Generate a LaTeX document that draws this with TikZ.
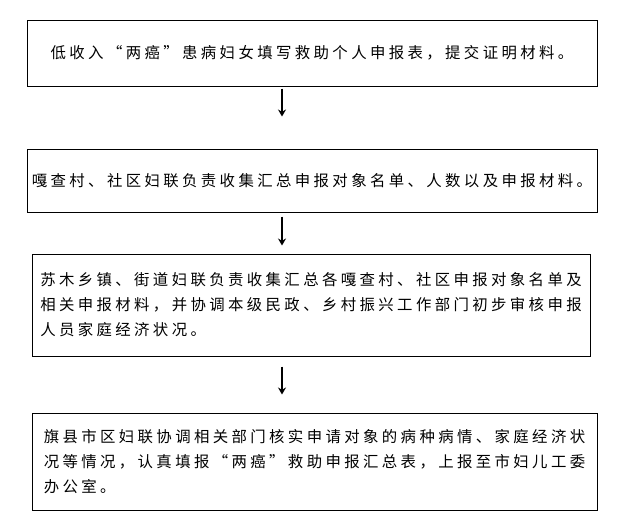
\documentclass[tikz,border=0pt]{standalone}
\usepackage{fontspec}
\usetikzlibrary{arrows.meta}
\newfontfamily\cjk[LetterSpace=22]{Noto Sans CJK SC}
\begin{document}
\begin{tikzpicture}[x=1pt,y=-1pt,
  box/.style={draw,line width=1pt,align=left,inner sep=0pt,font=\cjk\fontsize{15.4}{25}\selectfont},
  arr/.style={-{Stealth[length=7pt,width=8pt]},line width=1.3pt}]
\useasboundingbox (0,0) rectangle (619,523);
\node[box,minimum width=570,minimum height=66] (n1) at (312,53) {低收入“两癌”患病妇女填写救助个人申报表，提交证明材料。};
\node[box,minimum width=570,minimum height=63] (n2) at (312,180.5) {嘎查村、社区妇联负责收集汇总申报对象名单、人数以及申报材料。};
\node[box,minimum width=558,minimum height=102] (n3) at (311,305) {苏木乡镇、街道妇联负责收集汇总各嘎查村、社区申报对象名单及\\相关申报材料，并协调本级民政、乡村振兴工作部门初步审核申报\\人员家庭经济状况。};
\node[box,minimum width=565,minimum height=97] (n4) at (314.5,461.5) {旗县市区妇联协调相关部门核实申请对象的病种病情、家庭经济状\\况等情况，认真填报“两癌”救助申报汇总表，上报至市妇儿工委\\办公室。};
\draw[arr] ([xshift=-30pt,yshift=-2pt]n1.south) -- ([xshift=-30pt,yshift=-30pt]n1.south);
\draw[arr] ([xshift=-30pt,yshift=-4pt]n2.south) -- ([xshift=-30pt,yshift=-33pt]n2.south);
\draw[arr] ([xshift=-29pt,yshift=-10pt]n3.south) -- ([xshift=-29pt,yshift=-38pt]n3.south);
\end{tikzpicture}
\end{document}
